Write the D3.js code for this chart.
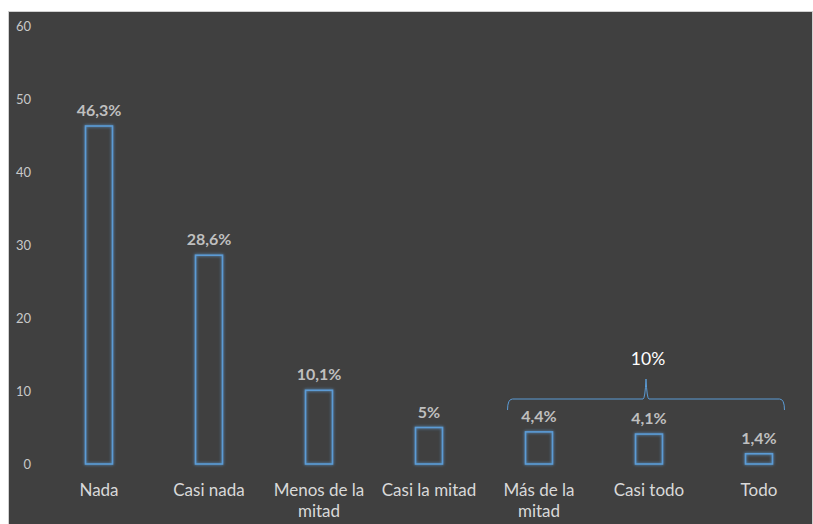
<!DOCTYPE html>
<html>
<head>
<meta charset="utf-8">
<script src="https://cdn.jsdelivr.net/npm/d3@7"></script>
<style>
  html, body { margin: 0; padding: 0; background: #ffffff; }
  svg { display: block; }
</style>
</head>
<body>
<svg id="chart" width="813" height="524"></svg>
<script>
// Share of respondents per answer
const categories = ["Nada", "Casi nada", "Menos de la mitad", "Casi la mitad", "Más de la mitad", "Casi todo", "Todo"];
const values = [46.3, 28.6, 10.1, 5, 4.4, 4.1, 1.4];
const valueLabels = ["46,3%", "28,6%", "10,1%", "5%", "4,4%", "4,1%", "1,4%"];
const yTicks = [0, 10, 20, 30, 40, 50, 60];
// Group bracket over the last three answers
const groupCategories = ["Más de la mitad", "Casi todo", "Todo"];
const groupLabel = "10%";

const W = 813, H = 524;
const svg = d3.select("#chart");
const font = "Lato, 'Open Sans', sans-serif";

// Dark panel
svg.append("rect").attr("x", 8.5).attr("y", 11.5).attr("width", W - 9).attr("height", H)
  .attr("fill", "#404040").attr("stroke", "#d0d0d0").attr("stroke-width", 1);

// Soft glow for the bar outlines
const defs = svg.append("defs");
const glow = defs.append("filter").attr("id", "glow")
  .attr("x", "-50%").attr("y", "-50%").attr("width", "200%").attr("height", "200%");
glow.append("feGaussianBlur").attr("in", "SourceGraphic").attr("stdDeviation", 1.6).attr("result", "blur");
const merge = glow.append("feMerge");
merge.append("feMergeNode").attr("in", "blur");
merge.append("feMergeNode").attr("in", "SourceGraphic");

const x = d3.scaleBand().domain(categories).range([44, 814])
  .paddingInner(0.755).paddingOuter(0.3775);
const y = d3.scaleLinear().domain([0, 60]).range([464, 26]);

// Y axis labels
const yAxis = d3.axisLeft(y).tickValues(yTicks).tickSize(0).tickPadding(0);
const yg = svg.append("g").attr("transform", "translate(31,0)").call(yAxis);
yg.select(".domain").remove();
yg.selectAll("text").attr("fill", "#c8c8c8").attr("font-size", 13).attr("font-family", font);

// Bars (outline only)
svg.append("g").selectAll("rect").data(categories).join("rect")
  .attr("x", d => x(d))
  .attr("y", (d, i) => y(values[i]))
  .attr("width", x.bandwidth())
  .attr("height", (d, i) => y(0) - y(values[i]))
  .attr("fill", "none")
  .attr("stroke", "#5b9bd5")
  .attr("stroke-width", 1.6)
  .attr("filter", "url(#glow)");

// Value labels
svg.append("g").selectAll("text").data(categories).join("text")
  .attr("x", d => x(d) + x.bandwidth() / 2)
  .attr("y", (d, i) => y(values[i]) - 10)
  .attr("text-anchor", "middle")
  .attr("fill", "#bfbfbf")
  .attr("font-family", font)
  .attr("font-weight", "bold")
  .attr("font-size", 16)
  .text((d, i) => valueLabels[i]);

// Category labels, wrapped to two lines when too long
const catLines = {
  "Menos de la mitad": ["Menos de la", "mitad"],
  "Más de la mitad": ["Más de la", "mitad"]
};
const cg = svg.append("g").selectAll("text").data(categories).join("text")
  .attr("x", d => x(d) + x.bandwidth() / 2)
  .attr("y", 496)
  .attr("text-anchor", "middle")
  .attr("fill", "#d9d9d9")
  .attr("font-family", font)
  .attr("font-size", 17);
cg.each(function (d) {
  const lines = catLines[d] || [d];
  d3.select(this).selectAll("tspan").data(lines).join("tspan")
    .attr("x", x(d) + x.bandwidth() / 2)
    .attr("dy", (l, i) => i === 0 ? 0 : 21)
    .text(l => l);
});

// Curly bracket grouping the last three answers
const gx0 = x(groupCategories[0]) - 18;
const gx1 = x(groupCategories[groupCategories.length - 1]) + x.bandwidth() + 12;
const gmid = x(groupCategories[1]) + x.bandwidth() / 2 - 3;
const gy = 399, gEnd = 410, gTop = 379, r = 5;
const brace = d3.path();
brace.moveTo(gx0, gEnd);
brace.quadraticCurveTo(gx0, gy, gx0 + r, gy);
brace.lineTo(gmid - 3, gy);
brace.quadraticCurveTo(gmid - 1, gy, gmid, gTop);
brace.quadraticCurveTo(gmid + 1, gy, gmid + 3, gy);
brace.lineTo(gx1 - r, gy);
brace.quadraticCurveTo(gx1, gy, gx1, gEnd);
svg.append("path").attr("d", brace.toString())
  .attr("fill", "none").attr("stroke", "#5b9bd5").attr("stroke-width", 1);

svg.append("text")
  .attr("x", gmid + 2).attr("y", 365)
  .attr("text-anchor", "middle")
  .attr("fill", "#ffffff")
  .attr("font-family", font)
  .attr("font-size", 17.5)
  .text(groupLabel);
</script>
</body>
</html>
